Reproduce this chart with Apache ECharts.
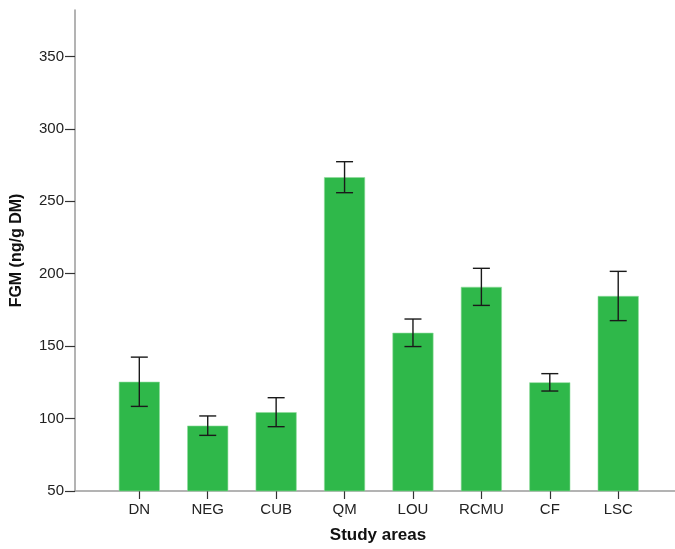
<!DOCTYPE html>
<html>
<head>
<meta charset="utf-8">
<script src="https://cdn.jsdelivr.net/npm/echarts@6/dist/echarts.min.js"></script>
<style>
html,body{margin:0;padding:0;background:#fff;}
#main{width:675px;height:549px;}
</style>
</head>
<body>
<div id="main"></div>
<script>
var categories = ['DN', 'NEG', 'CUB', 'QM', 'LOU', 'RCMU', 'CF', 'LSC'];
var means = [125.4, 95.1, 104.4, 266.6, 159.2, 190.9, 125.0, 184.6];
var errors = [17.0, 6.7, 10.0, 10.7, 9.5, 12.8, 6.0, 17.0];
var yTicks = [50, 100, 150, 200, 250, 300, 350];

var FONT = '"Liberation Sans", Arial, Helvetica, sans-serif';
var positions = categories.map(function (c, i) { return i; });
var barData = means.map(function (m, i) { return [i, m]; });
var errData = means.map(function (m, i) { return [i, m - errors[i], m + errors[i]]; });

var chart = echarts.init(document.getElementById('main'), null, {renderer: 'canvas'});
chart.setOption({
  animation: false,
  backgroundColor: '#ffffff',
  grid: {left: 75, right: 0, top: 10, bottom: 58, containLabel: false},
  xAxis: {
    type: 'value',
    min: -0.94,
    max: 7.83,
    name: 'Study areas',
    nameLocation: 'middle',
    nameGap: 36,
    nameTextStyle: {fontFamily: FONT, fontSize: 17, fontWeight: 'bold', color: '#111', padding: [0, 0, 0, 6]},
    splitLine: {show: false},
    axisLine: {show: true, onZero: false, lineStyle: {color: '#9a9a9a', width: 1.5}},
    axisTick: {show: true, length: 8, lineStyle: {color: '#333', width: 1.2}, customValues: positions},
    axisLabel: {
      fontFamily: FONT, fontSize: 15, color: '#222', margin: 11,
      customValues: positions,
      formatter: function (v) { return categories[Math.round(v)]; }
    }
  },
  yAxis: {
    type: 'value',
    min: 50,
    max: 382,
    name: 'FGM (ng/g DM)',
    nameLocation: 'middle',
    nameGap: 50,
    nameTextStyle: {fontFamily: FONT, fontSize: 16, fontWeight: 'bold', color: '#111'},
    splitLine: {show: false},
    axisLine: {show: true, onZero: false, lineStyle: {color: '#9a9a9a', width: 1.5}},
    axisTick: {show: true, length: 10, lineStyle: {color: '#333', width: 1.2}, customValues: yTicks},
    axisLabel: {fontFamily: FONT, fontSize: 15, color: '#222', margin: 11, customValues: yTicks}
  },
  series: [
    {
      type: 'bar',
      data: barData,
      barWidth: 41,
      itemStyle: {color: '#2fb84a', borderColor: '#8fdc9c', borderWidth: 0.6},
      clip: true
    },
    {
      type: 'custom',
      data: errData,
      clip: false,
      z: 5,
      renderItem: function (params, api) {
        var x = api.value(0);
        var lo = api.coord([x, api.value(1)]);
        var hi = api.coord([x, api.value(2)]);
        var hw = 8.5;
        var st = {stroke: '#1a1a1a', lineWidth: 1.4};
        return {
          type: 'group',
          children: [
            {type: 'line', shape: {x1: lo[0], y1: lo[1], x2: hi[0], y2: hi[1]}, style: st},
            {type: 'line', shape: {x1: hi[0] - hw, y1: hi[1], x2: hi[0] + hw, y2: hi[1]}, style: st},
            {type: 'line', shape: {x1: lo[0] - hw, y1: lo[1], x2: lo[0] + hw, y2: lo[1]}, style: st}
          ]
        };
      }
    }
  ]
});
</script>
</body>
</html>
